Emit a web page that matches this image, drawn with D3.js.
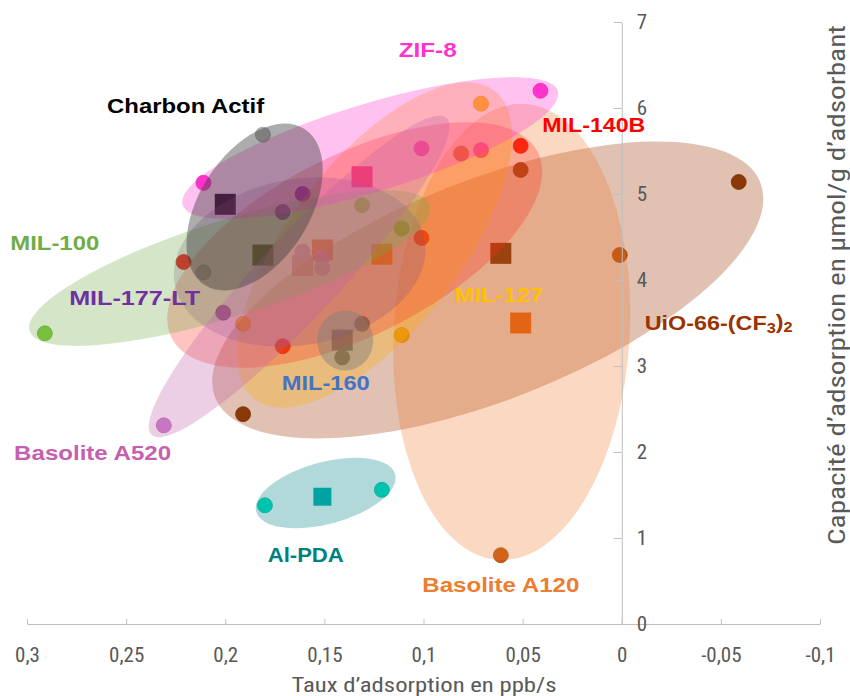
<!DOCTYPE html>
<html><head><meta charset="utf-8">
<script src="https://cdn.jsdelivr.net/npm/d3@7"></script>
<style>body{margin:0;background:#fff}svg{display:block}</style>
</head><body>
<svg id="chart" width="850" height="696"></svg>
<script>
// ---------- DATA ----------
const groupNames = ["ZIF-8","Charbon Actif","MIL-140B","MIL-100","MIL-177-LT","MIL-127","UiO-66-(CF3)2","MIL-160","Basolite A520","Al-PDA","Basolite A120"];
// individual measurements (rate ppb/s, capacity µmol/g)
const ptX = [
  [0.041, 0.211, 0.071, 0.101, 0.151],
  [0.181, 0.211],
  [0.051, 0.221, 0.171, 0.101],
  [0.291, 0.131, 0.111],
  [0.161, 0.171, 0.201],
  [0.071, 0.191, 0.111],
  [-0.059, 0.191, 0.051],
  [0.131, 0.141],
  [0.231, 0.161, 0.151],
  [0.180, 0.121],
  [0.061, 0.001, 0.081]
];
const ptY = [
  [6.20, 5.13, 5.51, 5.53, 4.26],
  [5.69, 4.09],
  [5.56, 4.21, 3.23, 4.49],
  [3.38, 4.87, 4.60],
  [5.00, 4.79, 3.62],
  [6.05, 3.49, 3.36],
  [5.14, 2.44, 5.28],
  [3.49, 3.10],
  [2.31, 4.33, 4.14],
  [1.38, 1.56],
  [0.80, 4.29, 5.47]
];
// mean values (squares)
const meanX = [0.131, 0.200, 0.151, 0.181, null, 0.121, 0.061, 0.141, 0.161, 0.151, 0.051];
const meanY = [5.20, 4.88, 4.35, 4.29, null, 4.30, 4.31, 3.30, 4.17, 1.48, 3.50];
// ellipse major-axis end points (data units)
const ellX1 = [0.2215, 0.2104, 0.227, 0.2987, 0.2255, 0.1852, 0.2051, 0.1395, 0.2371, 0.1844, 0.0621];
const ellY1 = [4.872, 3.942, 3.326, 3.407, 3.953, 2.616, 2.634, 3.645, 2.198, 1.307, 0.744];
const ellX2 = [0.0323, 0.160, 0.0424, 0.0969, 0.0994, 0.0641, -0.0699, 0.1395, 0.0883, 0.1143, 0.0489];
const ellY2 = [6.198, 5.756, 5.488, 4.872, 4.465, 6.198, 5.134, 2.948, 5.884, 1.740, 6.047];
// label anchor points (data units)
const labelX = [0.0979, 0.220, 0.0141, 0.286, 0.2457, 0.0621, -0.0489, 0.1493, 0.2669, 0.1594, 0.061];
const labelY = [6.674, 6.023, 5.802, 4.43, 3.791, 3.826, 3.50, 2.802, 1.988, 0.802, 0.453];
const xTicks = [0.3, 0.25, 0.2, 0.15, 0.1, 0.05, 0, -0.05, -0.1];
const yTicks = [0, 1, 2, 3, 4, 5, 6, 7];
const xTitle = "Taux d’adsorption en ppb/s";
const yTitle = "Capacité d’adsorption en µmol/g d’adsorbant";

// ---------- STYLE ----------
const labelColor = ["#ff33cc","#000000","#ff0000","#70ad47","#7030a0","#ffc000","#993300","#4472c4","#c55fb0","#008080","#ed7d31"];
const labelWidth = [58,157,103,89,131,89,148,88,157,76,157];
const ellFill = ["#ff33cc","#3a3a3a","#ff2a1a","#70ad47","#7a4a8a","#ffb000","#993300","#7f7f7f","#c060a8","#008080","#ed7d31"];
const ellOpacity = [0.3,0.42,0.28,0.3,0.25,0.3,0.3,0.45,0.3,0.3,0.3];
const ellHalfWidth = [44,55,90,48,83,85,110,28,40,31,118];
const ptColor = ["#ff33cc","#b0b0b0","#ff0000","#7dc83a","#8a20b0","#ffc000","#843c0c","#595959","#cc80cc","#00e0c0","#c55a11"];
const meanColor = ["#ff0066","#000000","#ff4000","#2a3a00",null,"#ff8c00","#6a2800","#44546a","#e08090","#00b0b0","#ff6a10"];
const ellOrder = [6,10,5,2,4,3,0,8,1,7,9];

// ---------- CHART ----------
const svg = d3.select("#chart");
const x = d3.scaleLinear().domain([0.3, -0.1]).range([27, 820]);
const y = d3.scaleLinear().domain([0, 7]).range([624, 22]);
const tickFont = "'Liberation Sans Narrow','Roboto Condensed','Liberation Sans',sans-serif";
const fmt = d => String(d).replace(".", ",");

// markers (under the translucent ellipses): squares then circles
const gM = svg.append("g");
groupNames.forEach((n, i) => {
  if (meanX[i] === null) return;
  const s = i === 9 ? 18 : 21;
  gM.append("rect")
    .attr("x", x(meanX[i]) - s / 2).attr("y", y(meanY[i]) - s / 2)
    .attr("width", s).attr("height", s)
    .attr("fill", meanColor[i]);
});
groupNames.forEach((n, i) => {
  ptX[i].forEach((v, j) => {
    gM.append("circle")
      .attr("cx", x(v)).attr("cy", y(ptY[i][j])).attr("r", 7.5)
      .attr("fill", ptColor[i])
      .attr("stroke", d3.color(ptColor[i]).darker(0.4)).attr("stroke-width", 0.8);
  });
});

// ellipses
const gEll = svg.append("g");
ellOrder.forEach(i => {
  const x1 = x(ellX1[i]), y1 = y(ellY1[i]), x2 = x(ellX2[i]), y2 = y(ellY2[i]);
  const cx = (x1 + x2) / 2, cy = (y1 + y2) / 2;
  const a = Math.hypot(x2 - x1, y2 - y1) / 2;
  const ang = Math.atan2(y2 - y1, x2 - x1) * 180 / Math.PI;
  gEll.append("ellipse")
    .attr("rx", a).attr("ry", ellHalfWidth[i])
    .attr("transform", `translate(${cx},${cy}) rotate(${ang})`)
    .attr("fill", ellFill[i]).attr("fill-opacity", ellOpacity[i]);
});

// axes
const xAxis = d3.axisBottom(x).tickValues(xTicks).tickFormat(fmt).tickSize(-5).tickSizeOuter(0).tickPadding(23);
const gx = svg.append("g").attr("transform", `translate(0,${y(0)})`).call(xAxis);
gx.select(".domain").attr("stroke", "#bfbfbf");
gx.selectAll(".tick line").attr("stroke", "#bfbfbf");
gx.selectAll("text").attr("fill", "#595959").attr("font-size", 21).attr("font-family", tickFont);

const yAxis = d3.axisRight(y).tickValues(yTicks).tickFormat(fmt).tickSize(-8).tickSizeOuter(0).tickPadding(15);
const gy = svg.append("g").attr("transform", `translate(${x(0)},0)`).call(yAxis);
gy.select(".domain").attr("stroke", "#bfbfbf");
gy.selectAll(".tick line").attr("stroke", "#bfbfbf");
gy.selectAll("text").attr("fill", "#595959").attr("font-size", 21).attr("font-family", tickFont);

// labels
const gL = svg.append("g").attr("font-family", "'Liberation Sans',Arial,sans-serif").attr("font-weight", "bold").attr("font-size", 20);
groupNames.forEach((n, i) => {
  const t = gL.append("text")
    .attr("x", x(labelX[i])).attr("y", y(labelY[i]))
    .attr("dy", "0.36em").attr("text-anchor", "middle")
    .attr("fill", labelColor[i])
    .attr("textLength", labelWidth[i]).attr("lengthAdjust", "spacingAndGlyphs");
  if (n === "UiO-66-(CF3)2") {
    t.append("tspan").text("UiO-66-(CF");
    t.append("tspan").attr("font-size", 14).attr("dy", "0.2em").text("3");
    t.append("tspan").attr("dy", "-0.2em").text(")");
    t.append("tspan").attr("font-size", 14).attr("dy", "0.2em").text("2");
  } else {
    t.text(n);
  }
});

// axis titles
svg.append("text").attr("x", 424).attr("y", 692).attr("text-anchor", "middle")
  .attr("font-family", tickFont).attr("font-size", 21).attr("fill", "#595959")
  .attr("textLength", 265).attr("lengthAdjust", "spacingAndGlyphs").text(xTitle);
svg.append("text").attr("transform", "translate(845,285) rotate(-90)").attr("text-anchor", "middle")
  .attr("font-family", tickFont).attr("font-size", 23).attr("fill", "#595959")
  .attr("textLength", 520).attr("lengthAdjust", "spacingAndGlyphs").text(yTitle);
</script>
</body></html>
